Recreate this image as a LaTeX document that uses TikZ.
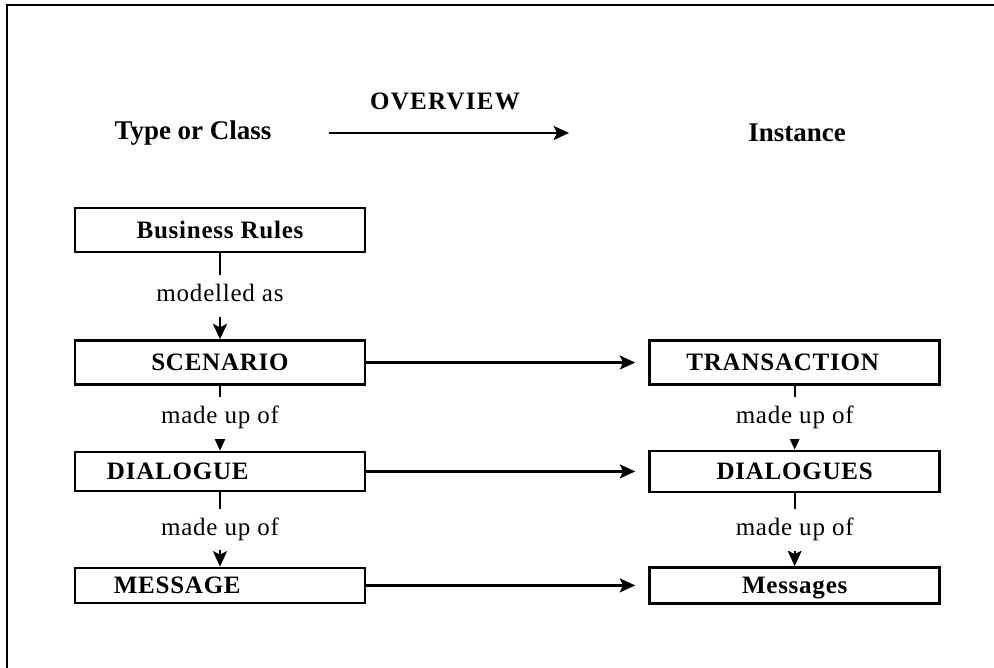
\documentclass[tikz,border=0pt]{standalone}
\usepackage{fontspec}
\setmainfont{Liberation Serif}
\newfontfamily\boxfont[LetterSpace=3]{Liberation Serif}
\newfontfamily\titlefont[LetterSpace=5]{Liberation Serif}
\usetikzlibrary{arrows.meta,
positioning,
calc}

\begin{document}
\begin{tikzpicture}[
x=0.025cm, y=-0.025cm,
node distance=2.2cm and 7.05cm,
>={Stealth[length=11pt,width=10pt,inset=2.5pt]},
line width=1.6pt,
box/.style={
draw,
line width=1.8pt,
minimum width=7.25cm,
minimum height=1.1cm,
inner sep=0pt,
text depth=0pt,
font=\boxfont\fontsize{17.8}{20}\selectfont\bfseries
},
lbox/.style={
box,
align=left,
text width=5.65cm,
inner xsep=0.8cm
},
heading/.style={
inner sep=0pt,
font=\fontsize{19.2}{22}\selectfont\bfseries
},
lbl/.style={
fill=white,
inner xsep=2pt,
inner ysep=0.17cm,
font=\boxfont\fontsize{17.8}{20}\selectfont
}
]
\useasboundingbox (0,0) rectangle (994,668);

% Frame
\draw[line width=2pt] (7,668) -- (7,5) -- (994,5);

% Headings
\node[heading, font=\titlefont\fontsize{17.8}{20}\selectfont\bfseries] (overview) at (445,101) {OVERVIEW};
\node[heading] (typecls) at (193,133) {Type or Class};
\node[heading] (instance) at (797,133) {Instance};

% Type side
\node[box] (rules) at (220,230) {Business Rules};
\node[box, below=2.15cm of rules] (scenario) {SCENARIO};
\node[lbox, minimum height=0.975cm, below=1.62cm of scenario] (dialogue) {DIALOGUE};
\node[lbox, minimum height=0.875cm, text width=5.31cm, inner xsep=0.97cm,
below=1.86cm of dialogue] (message) {MESSAGE};

% Instance side
\node[box, right=of scenario] (transaction) {TRANSACTION\hspace*{0.6cm}};
\node[box, minimum height=1.025cm, right=of dialogue] (dialogues) {DIALOGUES};
\node[box, minimum height=0.9cm, right=of message] (messages) {Messages};

% Connections
\draw[->, shorten <=1.4cm, shorten >=4.45cm] (typecls) -- (instance);

\draw[->] (rules.south) -- node[lbl] {\strut modelled as} (scenario.north);
\draw[->] (scenario.south) -- node[lbl] {\strut made up of} (scenario.south |- dialogue.north);
\draw[->] (dialogue.south -| scenario.south) -- node[lbl] {\strut made up of} (scenario.south |- message.north);
\draw[->] (transaction.south) -- node[lbl] {\strut made up of} (dialogues.north);
\draw[->] (dialogues.south) -- node[lbl] {\strut made up of} (dialogues.south |- messages.north);

\draw[->, shorten >=0.33cm] (scenario.east) -- (scenario.east -| transaction.west);
\draw[->, shorten >=0.33cm] (dialogue.east) -- (dialogue.east -| dialogues.west);
\draw[->, shorten >=0.33cm] (message.east) -- (message.east -| messages.west);

\end{tikzpicture}
\end{document}
